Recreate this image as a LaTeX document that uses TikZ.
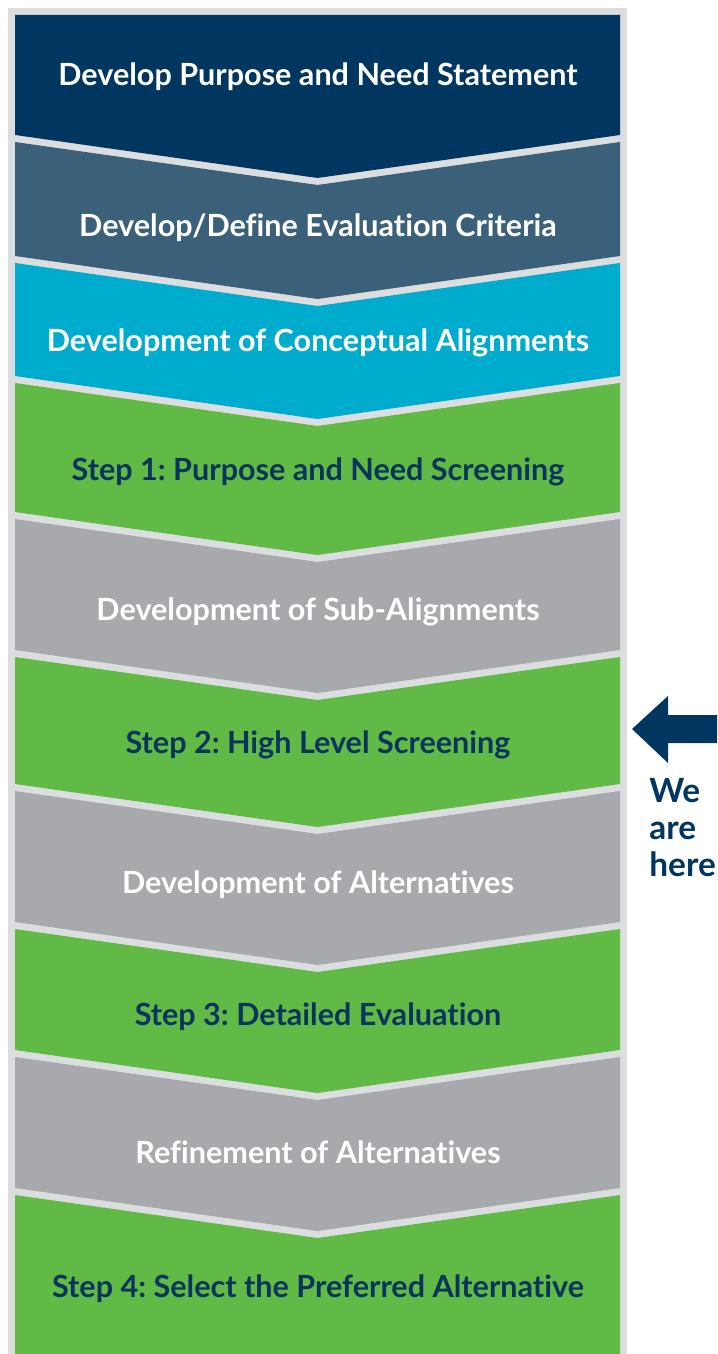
\documentclass[tikz,border=0pt]{standalone}
\usepackage{fontspec}
\setmainfont{Lato}[Ligatures=NoCommon]
\frenchspacing
\usetikzlibrary{positioning}
\definecolor{cnavy}{RGB}{0,54,96}
\definecolor{cslate}{RGB}{59,96,121}
\definecolor{ccyan}{RGB}{0,172,205}
\definecolor{cgreen}{RGB}{98,186,70}
\definecolor{cstone}{RGB}{167,169,172}
\definecolor{cframe}{RGB}{220,221,223}
\definecolor{cink}{RGB}{10,52,92}
% one chevron band: colour, top side/tip y, bottom side/tip y
\newcommand{\band}[5]{\fill[#1] (15,#2) -- (317.5,#3) -- (620,#2) -- (620,#4) -- (317.5,#5) -- (15,#4) -- cycle;}

\begin{document}
\begin{tikzpicture}[x=0.02cm, y=-0.02cm,
  lbl/.style={font=\bfseries\fontsize{17.4}{20}\selectfont, text=white, inner sep=0pt},
  steplbl/.style={lbl, text=cink}]
\useasboundingbox (0,0) rectangle (717,1354);
\fill[cframe] (8,8) rectangle (627,1354);
\band{cnavy}{15}{15}{135}{178}
\band{cslate}{142}{185}{256}{299}
\band{ccyan}{263}{306}{376}{419}
\band{cgreen}{383}{426}{512}{555}
\band{cstone}{519}{562}{650}{693}
\band{cgreen}{657}{700}{784}{827}
\band{cstone}{791}{834}{922}{965}
\band{cgreen}{929}{972}{1050}{1093}
\band{cstone}{1057}{1100}{1188}{1231}
\band{cgreen}{1195}{1238}{1354}{1354}
\node[lbl]     (purpose)  at (318,77)   {Develop Purpose and Need Statement};
\node[lbl]     (criteria) at (318,228)  {Develop/Define Evaluation Criteria};
\node[lbl]     (concept)  at (318,343)  {Development of Conceptual Alignments};
\node[steplbl] (stepone)  at (318,472)  {Step 1: Purpose and Need Screening};
\node[lbl]     (subalign) at (318,612)  {Development of Sub-Alignments};
\node[steplbl] (steptwo)  at (318,745)  {Step 2: High Level Screening};
\node[lbl]     (alts)     at (318,885)  {Development of Alternatives};
\node[steplbl] (stepthree) at (318,1017) {Step 3: Detailed Evaluation};
\node[lbl]     (refine)   at (318,1152) {Refinement of Alternatives};
\node[steplbl] (stepfour) at (318,1289) {Step 4: Select the Preferred Alternative};
% marker beside step 2
\fill[cnavy] (632,729) -- (668,696) -- (668,715) -- (717,715) -- (717,743) -- (668,743) -- (668,763) -- cycle;
\node[font=\bfseries\fontsize{19}{21}\selectfont, text=cnavy, align=left, anchor=north west, inner sep=0pt]
  (here) at (649,778) {We\\are\\here};
\end{tikzpicture}
\end{document}
